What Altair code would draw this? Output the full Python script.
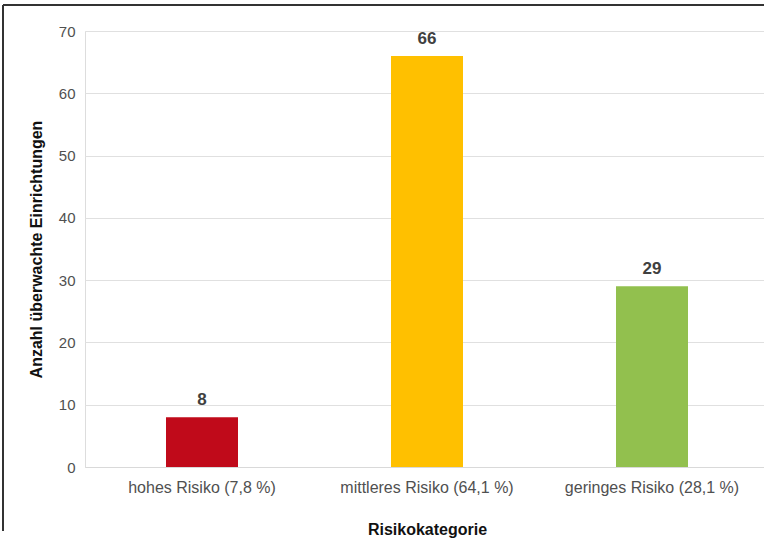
import altair as alt
import pandas as pd

categories = ["hohes Risiko (7,8 %)", "mittleres Risiko (64,1 %)", "geringes Risiko (28,1 %)"]
values = [8, 66, 29]
colors = ["#C00A1A", "#FFC000", "#92C04E"]

df = pd.DataFrame({"cat": categories, "val": values, "col": colors})

FONT = "Liberation Sans"

base = alt.Chart(df).encode(
    x=alt.X("cat:N", sort=categories,
            scale=alt.Scale(paddingInner=0.68, paddingOuter=0.36, range=[0, 684]),
            axis=alt.Axis(title="Risikokategorie", labelAngle=0, labelFontSize=16,
                          labelColor="#505050", labelPadding=12, ticks=False,
                          domainColor="#d9d9d9", titleFontSize=16, titleFontWeight="bold",
                          titleColor="#111111", titlePadding=26, grid=False)),
    y=alt.Y("val:Q", scale=alt.Scale(domain=[0, 70]),
            axis=alt.Axis(title="Anzahl überwachte Einrichtungen", values=[0,10,20,30,40,50,60,70],
                          labelFontSize=15, labelColor="#505050", labelPadding=10,
                          ticks=False, domain=False, gridColor="#e0e0e0",
                          titleFontSize=16, titleFontWeight="bold", titleColor="#111111",
                          titlePadding=14)),
)

bars = base.mark_bar().encode(color=alt.Color("col:N", scale=None))
labels = base.mark_text(dy=-8, baseline="bottom", fontSize=17, fontWeight="bold",
                        color="#404040", font=FONT).encode(text="val:Q")

border_left = alt.Chart(df).mark_rule(color="#333333", strokeWidth=2, clip=False).encode(
    x=alt.value(-82), y=alt.value(-26), y2=alt.value(500))
border_top = alt.Chart(df).mark_rule(color="#333333", strokeWidth=2, clip=False).encode(
    x=alt.value(-82), x2=alt.value(700), y=alt.value(-26))

chart = alt.layer(bars, labels, border_left, border_top).properties(
    width=679, height=436,
    autosize=alt.AutoSizeParams(type="none"),
    padding={"left": 85, "top": 31, "right": 0, "bottom": 85},
).configure_view(stroke=None).configure(font=FONT, background="white")

chart.save("out.html", embed_options={"renderer": "svg", "actions": False})
